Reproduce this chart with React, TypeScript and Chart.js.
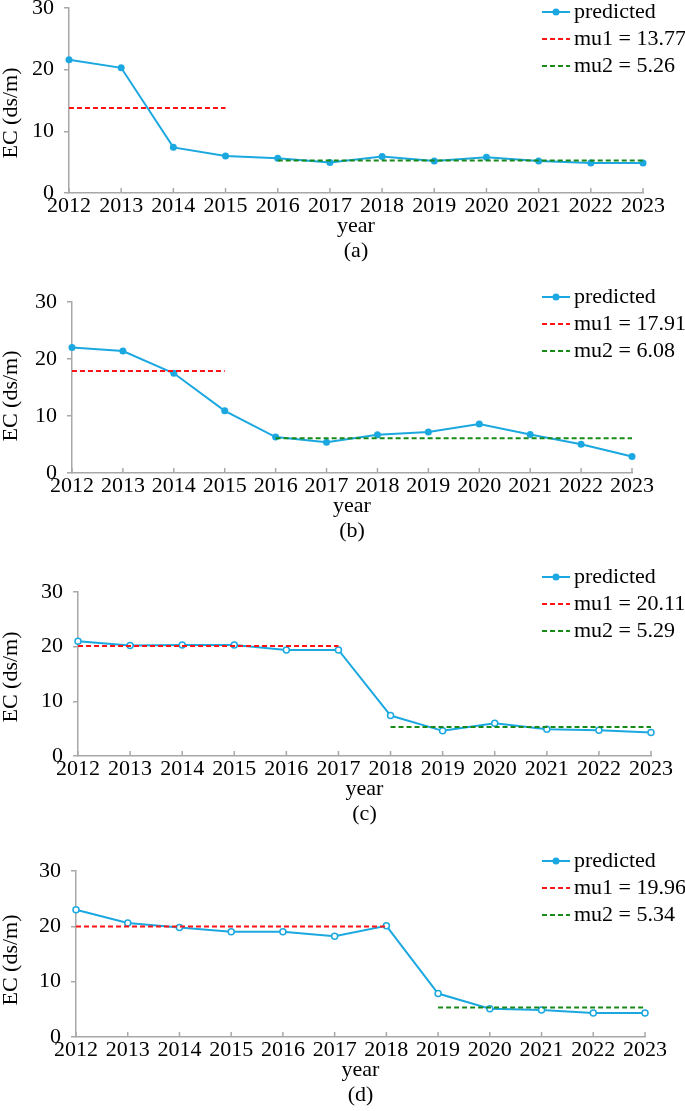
import { useEffect, useRef } from 'react';
import { Chart, registerables } from 'chart.js';

Chart.register(...registerables);

const years = ['2012', '2013', '2014', '2015', '2016', '2017', '2018', '2019', '2020', '2021', '2022', '2023'];

const predictedA = [21.6, 20.3, 7.4, 6.0, 5.65, 4.95, 5.9, 5.2, 5.8, 5.2, 4.85, 4.85];
const predictedB = [22.0, 21.4, 17.5, 10.9, 6.3, 5.4, 6.7, 7.2, 8.6, 6.75, 5.05, 2.9];
const predictedC = [21.0, 20.2, 20.3, 20.3, 19.4, 19.4, 7.4, 4.6, 6.0, 4.9, 4.7, 4.3];
const predictedD = [23.0, 20.6, 19.8, 19.0, 19.0, 18.2, 20.1, 7.85, 5.1, 4.9, 4.35, 4.35];

const mu1Values = [13.77, 17.91, 20.11, 19.96];
const mu2Values = [5.26, 6.08, 5.29, 5.34];
// index of the first year that belongs to the second mean
const changePoints = [4, 4, 6, 7];
const panelLetters = ['(a)', '(b)', '(c)', '(d)'];
const yTicks = [0, 10, 20, 30];

const yTitle = 'EC (ds/m)';
const xTitle = 'year';

const FONT = '"Liberation Serif", "Times New Roman", serif';
const TEXT = '#000';
const AXIS = '#a8a8a8';
const BLUE = '#1ba8e0';
const RED = '#ff1414';
const GREEN = '#178a17';
const PAD = 30;
const X_AXIS_H = 70;

// plot area of each panel in page pixels
const layouts = [
  { left: 69, right: 643, top: 8, bottom: 193, titleY: 113, legendY: 12, hollow: false },
  { left: 72, right: 632, top: 302, bottom: 473, titleY: 396, legendY: 297, hollow: false },
  { left: 78, right: 651, top: 592, bottom: 756, titleY: 677, legendY: 577, hollow: true },
  { left: 76, right: 645, top: 871, bottom: 1037, titleY: 960, legendY: 861, hollow: true },
];

const predictedSeries = [predictedA, predictedB, predictedC, predictedD];

function Panel({ index }: { index: number }) {
  const canvasRef = useRef<HTMLCanvasElement>(null);
  const chartRef = useRef<Chart | null>(null);
  const lay = layouts[index];
  const canvasTop = lay.top - PAD;
  const height = PAD + (lay.bottom - lay.top) + X_AXIS_H;

  useEffect(() => {
    if (!canvasRef.current) return;
    if (chartRef.current) chartRef.current.destroy();

    const cp = changePoints[index];
    const mu1 = mu1Values[index];
    const mu2 = mu2Values[index];

    // little ticks pointing up into the plot on the x axis
    const innerTicks = {
      id: 'innerTicks',
      afterDraw(chart: any) {
        const { ctx, chartArea } = chart;
        const xs = chart.scales.x;
        ctx.save();
        ctx.strokeStyle = AXIS;
        ctx.lineWidth = 1.5;
        years.forEach((_, i) => {
          const x = xs.getPixelForValue(i);
          ctx.beginPath();
          ctx.moveTo(x, chartArea.bottom);
          ctx.lineTo(x, chartArea.bottom - 5);
          ctx.stroke();
        });
        ctx.restore();
      },
    };

    const yTitlePlugin = {
      id: 'yTitle',
      afterDraw(chart: any) {
        const { ctx } = chart;
        ctx.save();
        ctx.translate(11, lay.titleY - canvasTop);
        ctx.rotate(-Math.PI / 2);
        ctx.font = `22px ${FONT}`;
        ctx.fillStyle = TEXT;
        ctx.textAlign = 'center';
        ctx.textBaseline = 'middle';
        ctx.fillText(yTitle, 0, 0);
        ctx.restore();
      },
    };

    const legendPlugin = {
      id: 'cornerLegend',
      afterDraw(chart: any) {
        const { ctx } = chart;
        ctx.save();
        chart.data.datasets.forEach((ds: any, k: number) => {
          const y = lay.legendY + k * 27 - canvasTop;
          ctx.strokeStyle = ds.borderColor;
          ctx.lineWidth = ds.borderWidth;
          ctx.setLineDash(ds.borderDash || []);
          ctx.beginPath();
          ctx.moveTo(542, y);
          ctx.lineTo(570, y);
          ctx.stroke();
          ctx.setLineDash([]);
          if (k === 0) {
            ctx.fillStyle = ds.borderColor;
            ctx.beginPath();
            ctx.arc(556, y, 3.5, 0, Math.PI * 2);
            ctx.fill();
          }
          ctx.font = `22px ${FONT}`;
          ctx.fillStyle = TEXT;
          ctx.textAlign = 'left';
          ctx.textBaseline = 'middle';
          ctx.fillText(ds.label, 574, y);
        });
        ctx.restore();
      },
    };

    chartRef.current = new Chart(canvasRef.current, {
      type: 'line',
      data: {
        labels: years,
        datasets: [
          {
            label: 'predicted',
            data: predictedSeries[index],
            borderColor: BLUE,
            backgroundColor: BLUE,
            borderWidth: 2,
            pointRadius: lay.hollow ? 3 : 3.5,
            pointBorderWidth: lay.hollow ? 1.5 : 0,
            pointBackgroundColor: lay.hollow ? '#ffffff' : BLUE,
            pointBorderColor: BLUE,
            order: 2,
          },
          {
            label: `mu1 = ${mu1.toFixed(2)}`,
            data: years.map((_, i) => (i < cp ? mu1 : null)),
            borderColor: RED,
            borderWidth: 2,
            borderDash: [5, 3],
            pointRadius: 0,
            order: 0,
          },
          {
            label: `mu2 = ${mu2.toFixed(2)}`,
            data: years.map((_, i) => (i >= cp ? mu2 : null)),
            borderColor: GREEN,
            borderWidth: 2,
            borderDash: [5, 3],
            pointRadius: 0,
            order: 1,
          },
        ],
      },
      options: {
        responsive: false,
        animation: false,
        layout: { padding: { top: PAD, right: 685 - lay.right, bottom: 0, left: 0 } },
        plugins: {
          legend: { display: false },
          tooltip: { enabled: false },
        },
        scales: {
          x: {
            type: 'category',
            offset: false,
            grid: { display: true, drawOnChartArea: false, drawTicks: false },
            border: { color: AXIS, width: 1.5 },
            ticks: {
              autoSkip: false,
              maxRotation: 0,
              minRotation: 0,
              padding: 0,
              color: TEXT,
              font: { family: FONT, size: 22 },
            },
            title: {
              display: true,
              text: [xTitle, panelLetters[index]],
              color: TEXT,
              padding: 0,
              font: { family: FONT, size: 22, lineHeight: 1.1 },
            },
            afterFit: (s: any) => {
              s.height = X_AXIS_H;
            },
          },
          y: {
            min: 0,
            max: 30,
            afterBuildTicks: (s: any) => {
              s.ticks = yTicks.map((v) => ({ value: v }));
            },
            grid: { drawOnChartArea: false, drawTicks: true, tickLength: 5, color: AXIS, lineWidth: 1.5 },
            border: { color: AXIS, width: 1.5 },
            ticks: { padding: 10, color: TEXT, font: { family: FONT, size: 22 } },
            afterFit: (s: any) => {
              s.width = lay.left;
            },
          },
        },
      },
      plugins: [innerTicks, yTitlePlugin, legendPlugin],
    });

    return () => {
      if (chartRef.current) {
        chartRef.current.destroy();
        chartRef.current = null;
      }
    };
  }, [index]);

  return (
    <canvas
      ref={canvasRef}
      width={685}
      height={height}
      style={{ position: 'absolute', left: 0, top: canvasTop, width: 685, height }}
    />
  );
}

export default function App() {
  return (
    <div
      style={{
        position: 'absolute',
        left: 0,
        top: 0,
        width: 685,
        height: 1111,
        overflow: 'hidden',
        background: '#fff',
      }}
    >
      {layouts.map((_, i) => (
        <Panel key={i} index={i} />
      ))}
    </div>
  );
}
